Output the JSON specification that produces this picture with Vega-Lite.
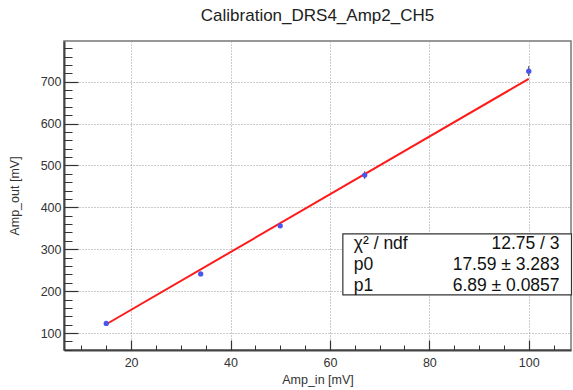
{
  "$schema": "https://vega.github.io/schema/vega-lite/v6.json",
  "width": 507,
  "height": 309,
  "autosize": {"type": "none"},
  "padding": {"left": 64, "top": 41, "right": 2, "bottom": 40},
  "background": "white",
  "title": {
    "text": "Calibration_DRS4_Amp2_CH5",
    "anchor": "middle",
    "fontSize": 17,
    "fontWeight": "normal",
    "font": "Liberation Sans",
    "color": "#222",
    "offset": 16
  },
  "config": {
    "font": "Liberation Sans",
    "view": {"stroke": "#777", "strokeWidth": 1.5}
  },
  "datasets": {
    "pts": [
      {"amp_in": 15, "amp_out": 123, "err": 3},
      {"amp_in": 34, "amp_out": 241, "err": 4},
      {"amp_in": 50, "amp_out": 356, "err": 5},
      {"amp_in": 67, "amp_out": 477, "err": 9},
      {"amp_in": 100, "amp_out": 725, "err": 12}
    ],
    "fit": [
      {"amp_in": 15, "amp_out": 120.94},
      {"amp_in": 100, "amp_out": 706.59}
    ],
    "stats": [
      {"labels": "χ² / ndf\np0\np1", "values": "12.75 / 3\n17.59 ± 3.283\n6.89 ± 0.0857"}
    ]
  },
  "resolve": {"axis": {"x": "independent", "y": "independent"}},
  "layer": [
    {
      "data": {"name": "pts"},
      "mark": {"type": "rule", "color": "#333", "strokeWidth": 1},
      "encoding": {
        "x": {"field": "amp_in", "type": "quantitative",
          "scale": {"domain": [6.5, 108.5], "nice": false, "zero": false},
          "axis": {"orient": "bottom", "values": [20, 40, 60, 80, 100], "title": "Amp_in [mV]",
            "ticks": false, "labelPadding": 6, "labelFontSize": 12.5, "labelColor": "#333",
            "titleFontSize": 12.5, "titleFontWeight": "normal", "titleColor": "#333", "titlePadding": 5,
            "domainColor": "#444", "domainWidth": 2,
            "grid": true, "gridDash": [1, 2], "gridColor": "#999", "gridWidth": 1}},
        "y": {"field": "lo", "type": "quantitative",
          "scale": {"domain": [59.5, 797], "nice": false, "zero": false},
          "axis": {"orient": "left", "values": [100, 200, 300, 400, 500, 600, 700], "title": "Amp_out [mV]",
            "ticks": false, "labelPadding": 3, "labelFontSize": 12.5, "labelColor": "#333",
            "titleFontSize": 12.5, "titleFontWeight": "normal", "titleColor": "#333", "titlePadding": 19,
            "domainColor": "#444", "domainWidth": 2,
            "grid": true, "gridDash": [1, 2], "gridColor": "#999", "gridWidth": 1}},
        "y2": {"field": "hi"}
      },
      "transform": [
        {"calculate": "datum.amp_out - datum.err", "as": "lo"},
        {"calculate": "datum.amp_out + datum.err", "as": "hi"}
      ]
    },
    {
      "data": {"name": "fit"},
      "mark": {"type": "line", "color": "#ff1a1a", "strokeWidth": 2},
      "encoding": {
        "x": {"field": "amp_in", "type": "quantitative",
          "axis": {"orient": "bottom", "values": [20, 40, 60, 80, 100], "labels": false, "title": null,
            "domain": false, "grid": false, "tickSize": -10, "tickColor": "#333", "tickWidth": 1.2}},
        "y": {"field": "amp_out", "type": "quantitative",
          "axis": {"orient": "left", "values": [100, 200, 300, 400, 500, 600, 700], "labels": false, "title": null,
            "domain": false, "grid": false, "tickSize": -14, "tickColor": "#333", "tickWidth": 1.2}}
      }
    },
    {
      "data": {"name": "pts"},
      "mark": {"type": "circle", "color": "#4a55ee", "opacity": 1, "size": 28},
      "encoding": {
        "x": {"field": "amp_in", "type": "quantitative",
          "axis": {"orient": "bottom", "values": [10, 15, 25, 30, 35, 45, 50, 55, 65, 70, 75, 85, 90, 95, 105],
            "labels": false, "title": null, "domain": false, "grid": false, "tickSize": -5, "tickColor": "#333", "tickWidth": 1}},
        "y": {"field": "amp_out", "type": "quantitative",
          "axis": {"orient": "left", "values": [60, 80, 120, 140, 160, 180, 220, 240, 260, 280, 320, 340, 360, 380, 420, 440, 460, 480, 520, 540, 560, 580, 620, 640, 660, 680, 720, 740, 760, 780],
            "labels": false, "title": null, "domain": false, "grid": false, "tickSize": -8, "tickColor": "#333", "tickWidth": 1}}
      }
    },
    {
      "data": {"name": "stats"},
      "mark": {"type": "rect", "fill": "white", "stroke": "#333", "strokeWidth": 1.2, "clip": false},
      "encoding": {
        "x": {"datum": 62.6, "type": "quantitative", "axis": null},
        "x2": {"datum": 108.6},
        "y": {"datum": 191.3, "type": "quantitative", "axis": null},
        "y2": {"datum": 336.8}
      }
    },
    {
      "data": {"name": "stats"},
      "mark": {"type": "text", "align": "left", "baseline": "middle", "fontSize": 17.5, "lineHeight": 21, "color": "#111", "lineBreak": "\n"},
      "encoding": {
        "x": {"datum": 64.8, "type": "quantitative", "axis": null},
        "y": {"datum": 313, "type": "quantitative", "axis": null},
        "text": {"field": "labels"}
      }
    },
    {
      "data": {"name": "stats"},
      "mark": {"type": "text", "align": "right", "baseline": "middle", "fontSize": 17.5, "lineHeight": 21, "color": "#111", "lineBreak": "\n"},
      "encoding": {
        "x": {"datum": 106.2, "type": "quantitative", "axis": null},
        "y": {"datum": 313, "type": "quantitative", "axis": null},
        "text": {"field": "values"}
      }
    }
  ]
}
